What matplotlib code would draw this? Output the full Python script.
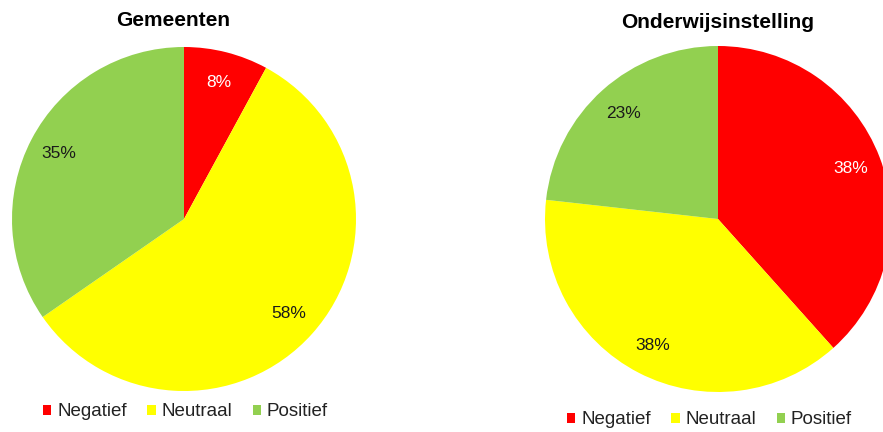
import matplotlib
matplotlib.use("Agg")
import matplotlib.pyplot as plt

# --- data ---
categories = ["Negatief", "Neutraal", "Positief"]
gemeenten = [8, 58, 35]
onderwijs = [38, 38, 23]
titles = ["Gemeenten", "Onderwijsinstelling"]

RED = "#ff0000"; YELLOW = "#ffff00"; GREEN = "#92d050"; INK = "#1a1a1a"
colors = [RED, YELLOW, GREEN]
plt.rcParams.update({"font.family": ["Liberation Sans", "DejaVu Sans"]})

W, H = 883, 432
fig = plt.figure(figsize=(W / 100, H / 100), dpi=100)
ax = fig.add_axes([0, 0, 1, 1])

# pixel-space layout (y measured upward)
pies = [
    dict(vals=gemeenten, center=(184, H - 219), r=172, title_xy=(173, H - 21), leg_xy=(43, H - 412)),
    dict(vals=onderwijs, center=(718, H - 219), r=173, title_xy=(718, H - 22), leg_xy=(567, H - 420)),
]

legends = []
for p, title in zip(pies, titles):
    vals = p["vals"]
    total = sum(vals)
    wedges, _, pct = ax.pie(vals, colors=colors, startangle=90, counterclock=False,
                            center=p["center"], radius=p["r"], pctdistance=0.82,
                            autopct=lambda v, t=total: f"{round(v * t / 100):.0f}%",
                            wedgeprops=dict(linewidth=0),
                            textprops=dict(fontsize=12.5, color=INK))
    pct[0].set_color("white")
    ax.text(*p["title_xy"], title, ha="center", va="center", fontsize=15,
            fontweight="bold", color="black")
    leg = ax.legend(wedges, categories, loc="center left", bbox_to_anchor=p["leg_xy"],
                    bbox_transform=ax.transData, ncol=3, frameon=False, fontsize=13.5,
                    borderpad=0, borderaxespad=0, handlelength=0.45, handleheight=0.45,
                    handletextpad=0.3, columnspacing=1.1, labelcolor="#222222")
    legends.append(leg)

for leg in legends[:-1]:
    ax.add_artist(leg)

ax.set_xlim(0, W); ax.set_ylim(0, H)
ax.set_aspect("auto")
ax.axis("off")
fig.savefig("out.png", facecolor="white")
